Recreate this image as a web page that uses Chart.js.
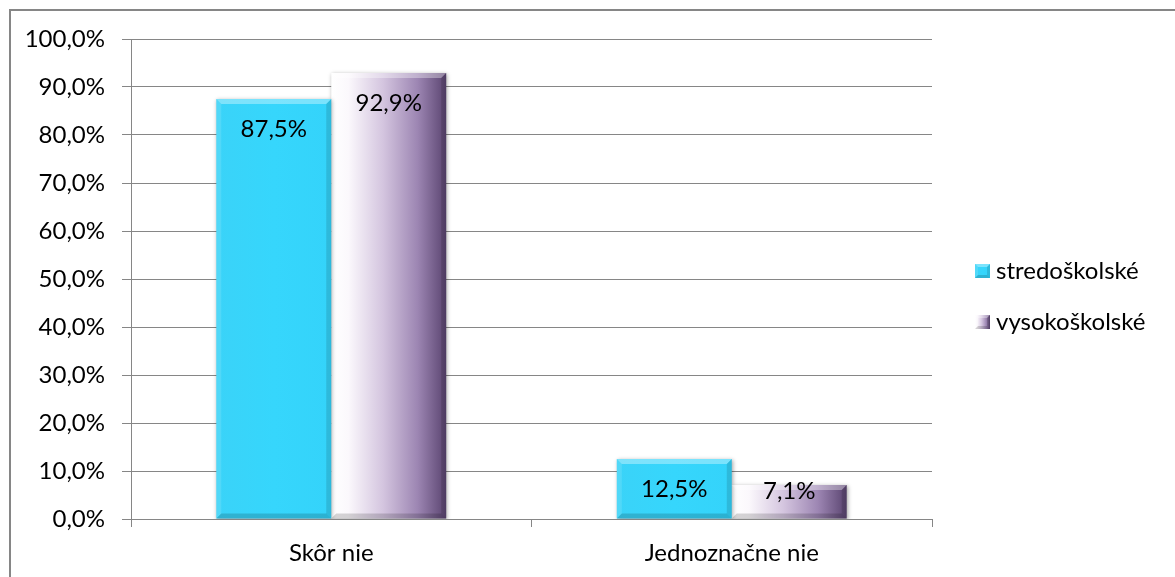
<!DOCTYPE html>
<html>
<head>
<meta charset="utf-8">
<script src="https://cdn.jsdelivr.net/npm/chart.js@4.4.1/dist/chart.umd.min.js"></script>
<style>
  html, body { margin: 0; padding: 0; background: #fff; overflow: hidden; }
  #wrap { position: relative; width: 1175px; height: 577px; }
</style>
</head>
<body>
<div id="wrap"><canvas id="chart" width="1175" height="577"></canvas></div>
<script>
// Data
const categories = ['Skôr nie', 'Jednoznačne nie'];
const seriesNames = ['stredoškolské', 'vysokoškolské'];
const stredoskolske = [87.5, 12.5];
const vysokoskolske = [92.9, 7.1];
const yTicks = { min: 0, max: 100, step: 10 };

const FONT = 'Lato, "Open Sans", sans-serif';
const FONT_SIZE = 24;

// gradient stops per series (horizontal, left -> right)
const barStops = [
    [[0, '#3ad3f8'], [0.5, '#36d6fc'], [1, '#34d3fa']],
    [[0, '#ffffff'], [0.15, '#fbf8fc'], [0.45, '#d4c5df'], [0.75, '#9d86b3'], [1, '#5a4470']]
];

function fmtPct(v) {
    return v.toFixed(1).replace('.', ',') + '%';
}

function makeGradient(ctx, l, r, stops) {
    const g = ctx.createLinearGradient(l, 0, r, 0);
    stops.forEach(([o, c]) => g.addColorStop(o, c));
    return g;
}

// bevel like excel 3d bars
function drawBevel(ctx, l, t, r, b, d) {
    ctx.save();
    ctx.fillStyle = 'rgba(255,255,255,0.35)';
    ctx.beginPath();
    ctx.moveTo(l, t); ctx.lineTo(r, t); ctx.lineTo(r - d, t + d); ctx.lineTo(l + d, t + d);
    ctx.closePath(); ctx.fill();
    ctx.fillStyle = 'rgba(255,255,255,0.12)';
    ctx.beginPath();
    ctx.moveTo(l, t); ctx.lineTo(l + d, t + d); ctx.lineTo(l + d, b - d); ctx.lineTo(l, b);
    ctx.closePath(); ctx.fill();
    ctx.fillStyle = 'rgba(0,0,0,0.12)';
    ctx.beginPath();
    ctx.moveTo(r, t); ctx.lineTo(r, b); ctx.lineTo(r - d, b - d); ctx.lineTo(r - d, t + d);
    ctx.closePath(); ctx.fill();
    ctx.fillStyle = 'rgba(0,0,0,0.16)';
    ctx.beginPath();
    ctx.moveTo(l, b); ctx.lineTo(r, b); ctx.lineTo(r - d, b - d); ctx.lineTo(l + d, b - d);
    ctx.closePath(); ctx.fill();
    ctx.restore();
}

const frame = {
    id: 'frame',
    beforeDraw(chart) {
        const ctx = chart.ctx;
        ctx.save();
        ctx.strokeStyle = '#868686';
        ctx.lineWidth = 2;
        ctx.strokeRect(10, 10, 1250, 650);
        ctx.restore();
    }
};

const barLook = {
    id: 'barLook',
    beforeDatasetsDraw(chart) {
        const ctx = chart.ctx;
        chart.data.datasets.forEach((ds, di) => {
            chart.getDatasetMeta(di).data.forEach(bar => {
                const l = bar.x - bar.width / 2, r = bar.x + bar.width / 2;
                bar.options.backgroundColor = makeGradient(ctx, l, r, barStops[di]);
            });
        });
        ctx.save();
        ctx.shadowColor = 'rgba(0,0,0,0.35)';
        ctx.shadowBlur = 4;
        ctx.shadowOffsetX = 1;
        ctx.shadowOffsetY = 1;
    },
    afterDatasetsDraw(chart) {
        const ctx = chart.ctx;
        ctx.restore();
        chart.data.datasets.forEach((ds, di) => {
            chart.getDatasetMeta(di).data.forEach((bar, i) => {
                const l = bar.x - bar.width / 2, r = bar.x + bar.width / 2;
                drawBevel(ctx, l, bar.y, r, bar.base, 5);
                ctx.save();
                ctx.fillStyle = '#000';
                ctx.font = FONT_SIZE + 'px ' + FONT;
                ctx.textAlign = 'center';
                ctx.textBaseline = 'middle';
                const y = Math.min(bar.y + 30, bar.base - 27);
                ctx.fillText(fmtPct(ds.data[i]), bar.x, y);
                ctx.restore();
            });
        });
    },
    afterDraw(chart) {
        // legend on the right
        const ctx = chart.ctx;
        const rows = [271, 322];
        seriesNames.forEach((name, i) => {
            const x = 975, y = rows[i], w = 15, h = 14;
            ctx.save();
            ctx.fillStyle = makeGradient(ctx, x, x + w, barStops[i]);
            ctx.fillRect(x, y - h / 2, w, h);
            drawBevel(ctx, x, y - h / 2, x + w, y + h / 2, 3);
            ctx.fillStyle = '#000';
            ctx.font = FONT_SIZE + 'px ' + FONT;
            ctx.textAlign = 'left';
            ctx.textBaseline = 'middle';
            ctx.fillText(name, 996, y);
            ctx.restore();
        });
    }
};

new Chart(document.getElementById('chart').getContext('2d'), {
    type: 'bar',
    data: {
        labels: categories,
        datasets: [
            // scriptable colours so every bar keeps its own options object
            { label: seriesNames[0], data: stredoskolske, backgroundColor: () => '#36d6fc', borderWidth: 0 },
            { label: seriesNames[1], data: vysokoskolske, backgroundColor: () => '#c7b5d6', borderWidth: 0 }
        ]
    },
    options: {
        responsive: false,
        animation: false,
        devicePixelRatio: 1,
        categoryPercentage: 0.574,
        barPercentage: 1,
        layout: { padding: { top: 39, right: 243, left: 0, bottom: 0 } },
        plugins: {
            legend: { display: false },
            tooltip: { enabled: false }
        },
        scales: {
            x: {
                offset: true,
                afterFit: (scale) => { scale.height = 58; },
                grid: { offset: true, drawOnChartArea: false, drawTicks: true, tickLength: 8, color: '#868686' },
                border: { color: '#868686', width: 1 },
                ticks: { color: '#000', font: { family: FONT, size: FONT_SIZE }, padding: 12 }
            },
            y: {
                min: yTicks.min,
                max: yTicks.max,
                afterFit: (scale) => { scale.width = 131; },
                grid: { color: '#868686', tickLength: 9 },
                border: { color: '#868686', width: 1 },
                ticks: {
                    stepSize: yTicks.step,
                    color: '#000',
                    font: { family: FONT, size: FONT_SIZE },
                    padding: 17,
                    callback: (v) => fmtPct(v)
                }
            }
        }
    },
    plugins: [frame, barLook]
});
</script>
</body>
</html>
